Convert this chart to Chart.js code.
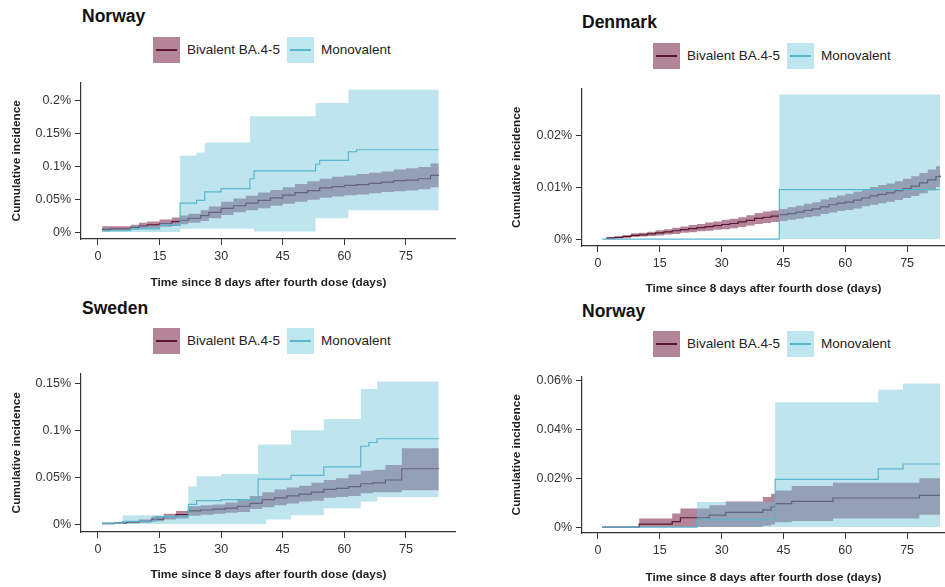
<!DOCTYPE html>
<html>
<head>
<meta charset="utf-8">
<script src="https://cdn.jsdelivr.net/npm/chart.js@4.4.0/dist/chart.umd.min.js"></script>
<style>
  html, body { margin: 0; padding: 0; background: #fff; overflow: hidden; }
  body { position: relative; width: 945px; height: 587px; font-family: "Liberation Sans", Arial, sans-serif; }
  .panel { position: absolute; }
  .title { position: absolute; font-weight: bold; font-size: 17.5px; line-height: 20px; color: #111; }
  .lbox { position: absolute; width: 27px; height: 26px; }
  .lbox span { position: absolute; left: 3px; right: 3px; top: 12px; height: 2px; }
  .ltext { position: absolute; font-size: 13.5px; line-height: 16px; color: #222; white-space: nowrap; }
</style>
</head>
<body>

<div class="title" style="left:82px;top:6px">Norway</div>
<div class="title" style="left:582px;top:12px">Denmark</div>
<div class="title" style="left:82px;top:298px">Sweden</div>
<div class="title" style="left:582px;top:301px">Norway</div>

<div class="panel" style="left:0px;top:71px;width:456px;height:223px"><canvas id="c1"></canvas></div>
<div class="panel" style="left:501px;top:77px;width:444px;height:222px"><canvas id="c2"></canvas></div>
<div class="panel" style="left:0px;top:362px;width:456px;height:224px"><canvas id="c3"></canvas></div>
<div class="panel" style="left:501px;top:365px;width:444px;height:222px"><canvas id="c4"></canvas></div>

<script>
// values in percent, days since 8 days after the fourth dose
const xTicks = [0, 15, 30, 45, 60, 75];

// Norway (top)
const noMonoDays = [1, 8, 15, 20, 24, 26, 30, 37, 38, 53, 54, 61, 63, 83];
const noMonoEst  = [0.002, 0.005, 0.01, 0.044, 0.048, 0.061, 0.066, 0.081, 0.093, 0.103, 0.109, 0.122, 0.125, 0.125];
const noMonoLow  = [0, 0, 0, 0.005, 0.005, 0.005, 0.005, 0.005, 0.001, 0.021, 0.021, 0.033, 0.033, 0.033];
const noMonoHigh = [0.006, 0.01, 0.014, 0.116, 0.121, 0.136, 0.136, 0.176, 0.176, 0.196, 0.196, 0.216, 0.216, 0.216];
const noBivDays = [1, 3, 8, 10, 12, 15, 18, 20, 22, 25, 27, 30, 33, 36, 39, 42, 45, 48, 51, 54, 57, 60, 63, 66, 69, 72, 75, 78, 81, 83];
const noBivEst  = [0.004, 0.005, 0.007, 0.009, 0.011, 0.013, 0.016, 0.018, 0.021, 0.025, 0.030, 0.036, 0.040, 0.044, 0.048, 0.052, 0.056, 0.060, 0.063, 0.067, 0.069, 0.071, 0.072, 0.074, 0.076, 0.078, 0.079, 0.081, 0.086, 0.086];
const noBivLow  = [0.001, 0.002, 0.004, 0.005, 0.006, 0.008, 0.010, 0.012, 0.014, 0.017, 0.021, 0.026, 0.030, 0.033, 0.036, 0.040, 0.043, 0.046, 0.049, 0.052, 0.054, 0.056, 0.057, 0.059, 0.061, 0.062, 0.063, 0.065, 0.068, 0.068];
const noBivHigh = [0.009, 0.009, 0.011, 0.014, 0.016, 0.019, 0.022, 0.025, 0.028, 0.033, 0.039, 0.046, 0.051, 0.055, 0.060, 0.064, 0.068, 0.073, 0.077, 0.081, 0.084, 0.086, 0.088, 0.090, 0.092, 0.095, 0.097, 0.099, 0.104, 0.104];
const noYTicks = [0, 0.05, 0.1, 0.15, 0.2];

// Denmark
const dkMonoDays = [1, 44, 83];
const dkMonoEst  = [0, 0.0095, 0.0095];
const dkMonoLow  = [0, 0, 0];
const dkMonoHigh = [0, 0.0278, 0.0278];
const dkBivDays = [2, 4, 6, 8, 10, 12, 14, 16, 18, 20, 22, 24, 26, 28, 30, 32, 34, 36, 38, 40, 42,
                   44, 46, 48, 50, 52, 54, 56, 58, 60, 62, 64, 66, 68, 70, 72, 74, 76, 78, 80, 82, 83];
const dkBivEst  = [0.0002, 0.0003, 0.0005, 0.0007, 0.0008, 0.0010, 0.0012, 0.0014, 0.0016, 0.0018, 0.0020,
                   0.0022, 0.0024, 0.0026, 0.0028, 0.0030, 0.0033, 0.0036, 0.0040, 0.0042, 0.0044,
                   0.0047, 0.0049, 0.0052, 0.0055, 0.0058, 0.0062, 0.0066, 0.0069, 0.0071, 0.0075,
                   0.0079, 0.0083, 0.0086, 0.0089, 0.0093, 0.0097, 0.0102, 0.0108, 0.0114, 0.0120, 0.0122];
const dkBivLow  = [0.0000, 0.0001, 0.0002, 0.0004, 0.0005, 0.0006, 0.0007, 0.0009, 0.0010, 0.0012, 0.0013,
                   0.0015, 0.0016, 0.0018, 0.0019, 0.0021, 0.0023, 0.0026, 0.0029, 0.0031, 0.0033,
                   0.0035, 0.0037, 0.0039, 0.0042, 0.0044, 0.0048, 0.0051, 0.0054, 0.0056, 0.0059,
                   0.0063, 0.0066, 0.0069, 0.0072, 0.0075, 0.0079, 0.0083, 0.0088, 0.0094, 0.0100, 0.0102];
const dkBivHigh = [0.0004, 0.0006, 0.0008, 0.0011, 0.0012, 0.0014, 0.0017, 0.0019, 0.0022, 0.0024, 0.0027,
                   0.0029, 0.0032, 0.0034, 0.0037, 0.0039, 0.0042, 0.0046, 0.0050, 0.0053, 0.0055,
                   0.0058, 0.0061, 0.0064, 0.0068, 0.0071, 0.0076, 0.0080, 0.0084, 0.0087, 0.0091,
                   0.0096, 0.0100, 0.0104, 0.0107, 0.0111, 0.0116, 0.0121, 0.0127, 0.0134, 0.0140, 0.0142];
const dkYTicks = [0, 0.01, 0.02];

// Sweden
const seMonoDays = [1, 6, 14, 22, 24, 30, 39, 41, 47, 55, 64, 66, 68, 83];
const seMonoEst  = [0.001, 0.003, 0.008, 0.021, 0.025, 0.026, 0.048, 0.048, 0.052, 0.061, 0.083, 0.087, 0.091, 0.091];
const seMonoLow  = [0, 0, 0, 0, 0, 0, 0, 0.005, 0.0095, 0.017, 0.024, 0.024, 0.029, 0.029];
const seMonoHigh = [0.002, 0.0095, 0.0095, 0.040, 0.051, 0.0535, 0.085, 0.085, 0.100, 0.112, 0.144, 0.144, 0.152, 0.152];
const seBivDays = [1, 4, 7, 10, 13, 16, 19, 22, 25, 28, 31, 34, 37, 40, 43, 46, 49, 52, 55, 58, 61, 64, 67, 70, 74, 83];
const seBivEst  = [0.0005, 0.001, 0.002, 0.003, 0.005, 0.008, 0.010, 0.014, 0.015, 0.016, 0.017, 0.019, 0.022, 0.026, 0.028, 0.030, 0.032, 0.034, 0.037, 0.038, 0.040, 0.043, 0.044, 0.047, 0.059, 0.059];
const seBivLow  = [0, 0.0003, 0.001, 0.0015, 0.003, 0.005, 0.006, 0.009, 0.010, 0.011, 0.012, 0.013, 0.016, 0.018, 0.020, 0.022, 0.024, 0.025, 0.028, 0.029, 0.030, 0.033, 0.034, 0.034, 0.036, 0.036];
const seBivHigh = [0.001, 0.002, 0.003, 0.005, 0.008, 0.011, 0.014, 0.019, 0.020, 0.021, 0.023, 0.026, 0.030, 0.034, 0.037, 0.039, 0.041, 0.044, 0.047, 0.049, 0.053, 0.057, 0.058, 0.063, 0.081, 0.081];
const seYTicks = [0, 0.05, 0.1, 0.15];

// Norway (bottom)
const no2MonoDays = [1, 24, 43, 68, 74, 83];
const no2MonoEst  = [0, 0.003, 0.0195, 0.0238, 0.0258, 0.0258];
const no2MonoLow  = [0, 0, 0, 0, 0, 0];
const no2MonoHigh = [0, 0.0103, 0.0511, 0.0562, 0.0587, 0.0587];
const no2BivDays = [1, 10, 18, 20, 24, 27, 31, 40, 42, 43, 47, 57, 78, 83];
const no2BivEst  = [0, 0.0012, 0.0022, 0.0038, 0.0038, 0.0049, 0.006, 0.007, 0.0082, 0.0096, 0.0105, 0.0119, 0.013, 0.013];
const no2BivLow  = [0, 0, 0, 0, 0, 0, 0, 0.0005, 0.001, 0.002, 0.0025, 0.0035, 0.005, 0.005];
const no2BivHigh = [0, 0.0035, 0.0055, 0.0076, 0.0076, 0.0089, 0.0105, 0.0123, 0.0136, 0.015, 0.0168, 0.0181, 0.02, 0.02];
const no2YTicks = [0, 0.02, 0.04, 0.06];

const monoLine = "rgb(88,182,206)";
const monoBand = "rgba(110,195,218,0.45)";
const bivLine = "rgb(92,22,52)";
const bivBand = "rgba(130,50,85,0.6)";
const bivBandSolid = "rgb(180,132,153)";
const monoBandSolid = "rgb(190,230,239)";

Chart.defaults.font.family = "'Liberation Sans', Arial, sans-serif";
Chart.defaults.color = "#333";

function pts(days, vals) {
    return days.map((d, i) => ({ x: d, y: vals[i] }));
}

function makePanel(id, p) {
    const line = (data, color) => ({
        data: data, borderColor: color, borderWidth: 1.2, stepped: true,
        pointRadius: 0, fill: false
    });
    const band = (data, color, target) => ({
        data: data, borderColor: "transparent", borderWidth: 0, stepped: true,
        pointRadius: 0, backgroundColor: color,
        fill: target === null ? false : { target: target }
    });
    new Chart(document.getElementById(id), {
        type: "line",
        data: {
            datasets: [
                line(pts(p.monoDays, p.monoEst), monoLine),
                band(pts(p.monoDays, p.monoHigh), monoBand, 2),
                band(pts(p.monoDays, p.monoLow), monoBand, null),
                line(pts(p.bivDays, p.bivEst), bivLine),
                band(pts(p.bivDays, p.bivHigh), bivBand, 5),
                band(pts(p.bivDays, p.bivLow), bivBand, null)
            ]
        },
        options: {
            responsive: true,
            maintainAspectRatio: false,
            animation: false,
            layout: { padding: { top: 10, left: 0, right: 0, bottom: 0 } },
            plugins: { legend: { display: false }, tooltip: { enabled: false } },
            scales: {
                x: {
                    type: "linear", min: p.xMin, max: p.xMax,
                    afterBuildTicks: a => { a.ticks = xTicks.map(v => ({ value: v })); },
                    afterFit: s => { s.height = p.hx; },
                    grid: { drawOnChartArea: false, tickLength: 6, tickColor: "#333", tickWidth: 1 },
                    border: { display: true, color: "#333", width: 1.2 },
                    ticks: { font: { size: 12.5 }, color: "#333", padding: 4, maxRotation: 0 },
                    title: {
                        display: true, text: "Time since 8 days after fourth dose (days)",
                        font: { size: 11.8, weight: "bold" }, color: "#222",
                        padding: { top: 0, bottom: p.xTitlePad }
                    }
                },
                y: {
                    min: p.yMin, max: p.yMax,
                    afterBuildTicks: a => { a.ticks = p.yTicks.map(v => ({ value: v })); },
                    afterFit: s => { s.width = 81; },
                    grid: { drawOnChartArea: false, tickLength: 6, tickColor: "#333", tickWidth: 1 },
                    border: { display: true, color: "#333", width: 1.2 },
                    ticks: { font: { size: 12.5 }, color: "#333", padding: 4, callback: v => v + "%" },
                    title: {
                        display: true, text: "Cumulative incidence",
                        font: { size: 11.8, weight: "bold" }, color: "#222",
                        padding: { top: p.yTitlePad, bottom: 0 }
                    }
                }
            }
        }
    });
}

makePanel("c1", {
    monoDays: noMonoDays, monoEst: noMonoEst, monoLow: noMonoLow, monoHigh: noMonoHigh,
    bivDays: noBivDays, bivEst: noBivEst, bivLow: noBivLow, bivHigh: noBivHigh,
    yTicks: noYTicks, xMin: -4.14, xMax: 87.2, yMin: -0.0105, yMax: 0.2271,
    hx: 55, xTitlePad: 4, yTitlePad: 10
});
makePanel("c2", {
    monoDays: dkMonoDays, monoEst: dkMonoEst, monoLow: dkMonoLow, monoHigh: dkMonoHigh,
    bivDays: dkBivDays, bivEst: dkBivEst, bivLow: dkBivLow, bivHigh: dkBivHigh,
    yTicks: dkYTicks, xMin: -3.88, xMax: 84.2, yMin: -0.00133, yMax: 0.02895,
    hx: 53, xTitlePad: 3.6, yTitlePad: 8.6
});
makePanel("c3", {
    monoDays: seMonoDays, monoEst: seMonoEst, monoLow: seMonoLow, monoHigh: seMonoHigh,
    bivDays: seBivDays, bivEst: seBivEst, bivLow: seBivLow, bivHigh: seBivHigh,
    yTicks: seYTicks, xMin: -4.14, xMax: 87.2, yMin: -0.00845, yMax: 0.1606,
    hx: 54, xTitlePad: 4, yTitlePad: 9.6
});
makePanel("c4", {
    monoDays: no2MonoDays, monoEst: no2MonoEst, monoLow: no2MonoLow, monoHigh: no2MonoHigh,
    bivDays: no2BivDays, bivEst: no2BivEst, bivLow: no2BivLow, bivHigh: no2BivHigh,
    yTicks: no2YTicks, xMin: -3.88, xMax: 84.2, yMin: -0.00243, yMax: 0.0616,
    hx: 54, xTitlePad: 2.2, yTitlePad: 8.6
});

// legends
function addLegend(x1, x2, top) {
    const items = [
        { x: x1, label: "Bivalent BA.4-5", fill: bivBandSolid, line: bivLine },
        { x: x2, label: "Monovalent", fill: monoBandSolid, line: monoLine }
    ];
    items.forEach(it => {
        const box = document.createElement("div");
        box.className = "lbox";
        box.style.left = it.x + "px";
        box.style.top = top + "px";
        box.style.background = it.fill;
        const ln = document.createElement("span");
        ln.style.background = it.line;
        box.appendChild(ln);
        document.body.appendChild(box);
        const txt = document.createElement("div");
        txt.className = "ltext";
        txt.textContent = it.label;
        txt.style.left = (it.x + 34) + "px";
        txt.style.top = (top + 5) + "px";
        document.body.appendChild(txt);
    });
}
addLegend(153, 287, 37);
addLegend(653, 787, 43);
addLegend(153, 287, 328);
addLegend(653, 787, 331);
</script>
</body>
</html>
